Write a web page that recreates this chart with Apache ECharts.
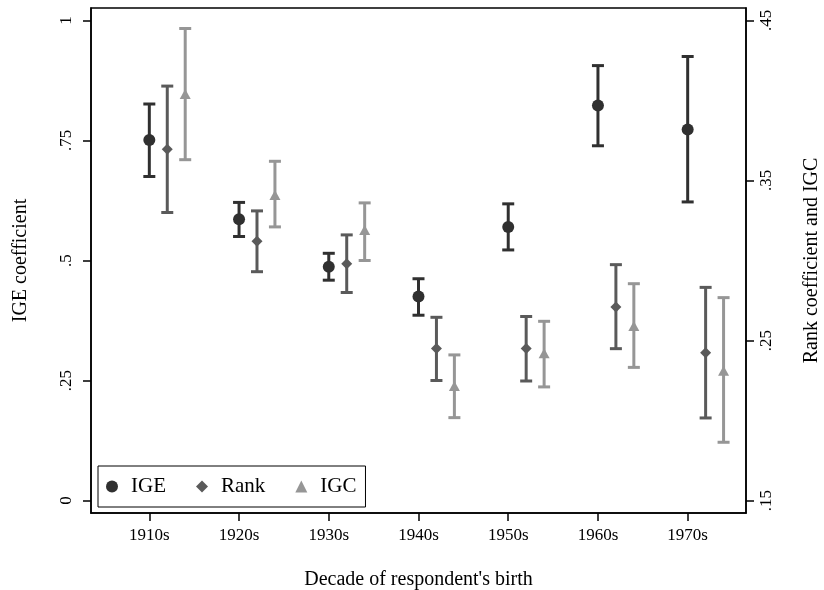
<!DOCTYPE html>
<html>
<head>
<meta charset="utf-8">
<script src="https://cdn.jsdelivr.net/npm/echarts@6/dist/echarts.min.js"></script>
<style>html,body{margin:0;padding:0;background:#fff}#c{width:824px;height:590px}</style>
</head>
<body>
<div id="c"></div>
<script>
// ---- data ----
const decades = [1910, 1920, 1930, 1940, 1950, 1960, 1970];
const decadeLabels = ['1910s', '1920s', '1930s', '1940s', '1950s', '1960s', '1970s'];

const igeEst = [0.751, 0.586, 0.487, 0.425, 0.570, 0.823, 0.773];
const igeLo  = [0.675, 0.550, 0.459, 0.386, 0.522, 0.739, 0.622];
const igeHi  = [0.826, 0.621, 0.515, 0.462, 0.618, 0.906, 0.925];

const rankEst = [0.3695, 0.312, 0.298, 0.245, 0.245, 0.271, 0.2424];
const rankLo  = [0.330, 0.293, 0.280, 0.225, 0.2247, 0.2449, 0.2016];
const rankHi  = [0.409, 0.331, 0.316, 0.2645, 0.265, 0.2974, 0.2832];

const igcEst = [0.404, 0.341, 0.319, 0.2216, 0.242, 0.259, 0.2311];
const igcLo  = [0.363, 0.321, 0.300, 0.2018, 0.221, 0.2332, 0.1864];
const igcHi  = [0.445, 0.362, 0.336, 0.241, 0.262, 0.2855, 0.2768];

const leftTicks  = [0, 0.25, 0.5, 0.75, 1];
const leftTickLabels = ['0', '.25', '.5', '.75', '1'];
const rightTicks = [0.15, 0.25, 0.35, 0.45];
const rightTickLabels = ['.15', '.25', '.35', '.45'];

// ---- chart ----
const FONT = 'Liberation Serif';
const C_IGE = '#303030', C_RANK = '#5a5a5a', C_IGC = '#969696';

function barData(offset, lo, hi) {
  return decades.map((d, i) => [d + offset, lo[i], hi[i]]);
}
function ptData(offset, est) {
  return decades.map((d, i) => [d + offset, est[i]]);
}
function errRender(color) {
  return function (params, api) {
    const x = api.value(0);
    const p1 = api.coord([x, api.value(1)]);
    const p2 = api.coord([x, api.value(2)]);
    const hw = 6;
    const st = { stroke: color, lineWidth: 3, lineCap: 'butt' };
    return {
      type: 'group',
      children: [
        { type: 'line', shape: { x1: p1[0], y1: p1[1], x2: p2[0], y2: p2[1] }, style: st },
        { type: 'line', shape: { x1: p1[0] - hw, y1: p1[1], x2: p1[0] + hw, y2: p1[1] }, style: st },
        { type: 'line', shape: { x1: p2[0] - hw, y1: p2[1], x2: p2[0] + hw, y2: p2[1] }, style: st }
      ]
    };
  };
}

const chart = echarts.init(document.getElementById('c'), null, { renderer: 'canvas' });
chart.setOption({
  animation: false,
  backgroundColor: '#fff',
  textStyle: { fontFamily: FONT, color: '#000' },
  grid: { left: 91, right: 78, top: 8, bottom: 77, show: true, borderColor: '#000', borderWidth: 1.5,
    containLabel: false, outerBoundsMode: 'none' },
  legend: {
    left: 98, top: 466,
    orient: 'horizontal',
    data: ['IGE', 'Rank', 'IGC'],
    borderColor: '#000', borderWidth: 1,
    padding: [10, 9, 10, 8],
    itemGap: 30,
    itemWidth: 12, itemHeight: 12,
    textStyle: { fontFamily: FONT, fontSize: 21, color: '#000', padding: [0, 0, 0, 8] }
  },
  xAxis: {
    type: 'value', min: 1903.5, max: 1976.5,
    name: "Decade of respondent's birth", nameLocation: 'middle', nameGap: 57,
    nameTextStyle: { fontFamily: FONT, fontSize: 20, color: '#000' },
    axisLine: { show: true, onZero: false, lineStyle: { color: '#000', width: 1.5 } },
    axisTick: { show: true, length: 8, lineStyle: { color: '#000', width: 1.5 }, customValues: decades },
    axisLabel: { fontFamily: FONT, fontSize: 17, color: '#000', margin: 14, customValues: decades,
      formatter: v => decadeLabels[decades.indexOf(v)] },
    splitLine: { show: false }
  },
  yAxis: [{
    type: 'value', min: -0.026, max: 1.026, position: 'left',
    name: 'IGE coefficient', nameLocation: 'middle', nameRotate: 90, nameGap: 60,
    nameTextStyle: { fontFamily: FONT, fontSize: 20, color: '#000' },
    axisLine: { show: true, onZero: false, lineStyle: { color: '#000', width: 1.5 } },
    axisTick: { show: true, length: 8, lineStyle: { color: '#000', width: 1.5 }, customValues: leftTicks },
    axisLabel: { fontFamily: FONT, fontSize: 17, color: '#000', rotate: 90, margin: 16, customValues: leftTicks,
      formatter: v => leftTickLabels[leftTicks.indexOf(v)] },
    splitLine: { show: false }
  }, {
    type: 'value', min: 0.1422, max: 0.4578, position: 'right',
    name: 'Rank coefficient and IGC', nameLocation: 'middle', nameRotate: 90, nameGap: 56,
    nameTextStyle: { fontFamily: FONT, fontSize: 20, color: '#000' },
    axisLine: { show: true, onZero: false, lineStyle: { color: '#000', width: 1.5 } },
    axisTick: { show: true, length: 8, lineStyle: { color: '#000', width: 1.5 }, customValues: rightTicks },
    axisLabel: { fontFamily: FONT, fontSize: 17, color: '#000', rotate: 90, margin: 12, customValues: rightTicks,
      formatter: v => rightTickLabels[rightTicks.indexOf(v)] },
    splitLine: { show: false }
  }],
  series: [
    { name: 'IGE ci', type: 'custom', yAxisIndex: 0, renderItem: errRender(C_IGE), data: barData(0, igeLo, igeHi), encode: { x: 0, y: [1, 2] }, z: 2 },
    { name: 'Rank ci', type: 'custom', yAxisIndex: 1, renderItem: errRender(C_RANK), data: barData(2, rankLo, rankHi), encode: { x: 0, y: [1, 2] }, z: 2 },
    { name: 'IGC ci', type: 'custom', yAxisIndex: 1, renderItem: errRender(C_IGC), data: barData(4, igcLo, igcHi), encode: { x: 0, y: [1, 2] }, z: 2 },
    { name: 'IGE', type: 'scatter', yAxisIndex: 0, symbol: 'circle', symbolSize: 12, itemStyle: { color: C_IGE, opacity: 1 }, data: ptData(0, igeEst), z: 5 },
    { name: 'Rank', type: 'scatter', yAxisIndex: 1, symbol: 'diamond', symbolSize: 11, itemStyle: { color: C_RANK, opacity: 1 }, data: ptData(2, rankEst), z: 5 },
    { name: 'IGC', type: 'scatter', yAxisIndex: 1, symbol: 'triangle', symbolSize: [11, 10], itemStyle: { color: C_IGC, opacity: 1 }, data: ptData(4, igcEst), z: 5 }
  ]
});
</script>
</body>
</html>
